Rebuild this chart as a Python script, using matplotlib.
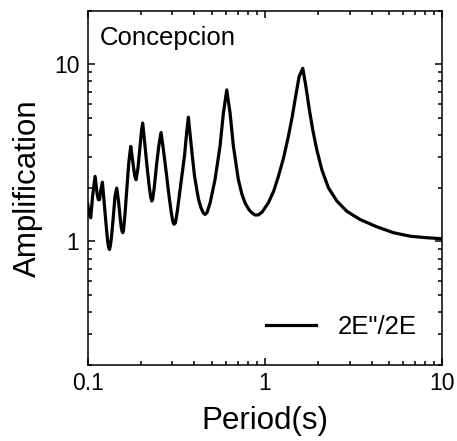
import matplotlib
matplotlib.use('Agg')
import matplotlib.pyplot as plt
from matplotlib.ticker import LogLocator, NullFormatter, FuncFormatter

plt.rcParams['font.family'] = ['Liberation Sans', 'DejaVu Sans']

# Период (с) и коэффициент усиления
period = [0.100, 0.102, 0.104, 0.1065, 0.110, 0.113, 0.1148, 0.1165, 0.1185,
          0.121, 0.1235, 0.1264, 0.1295, 0.131, 0.1325, 0.134, 0.136, 0.1395,
          0.1425, 0.1457, 0.149, 0.152, 0.1545, 0.1562, 0.1576, 0.159, 0.162,
          0.166, 0.1705, 0.1748, 0.178, 0.181, 0.184, 0.1873, 0.192, 0.197,
          0.201, 0.204, 0.209, 0.215, 0.222, 0.2265, 0.2296, 0.2325, 0.237,
          0.245, 0.252, 0.259, 0.266, 0.273, 0.2875, 0.296, 0.3015, 0.3065,
          0.312, 0.320, 0.3317, 0.351, 0.362, 0.3694, 0.377, 0.389, 0.400,
          0.412, 0.422, 0.435, 0.448, 0.459, 0.470, 0.490, 0.522, 0.557,
          0.582, 0.608, 0.635, 0.663, 0.707, 0.740, 0.771, 0.815, 0.850,
          0.878, 0.915, 0.96, 1.044, 1.12, 1.189, 1.27, 1.353, 1.42, 1.476,
          1.555, 1.632, 1.70, 1.778, 1.857, 1.957, 2.09, 2.275, 2.54, 2.89,
          3.43, 4.26, 5.29, 6.57, 8.0, 10.0]
amplification = [1.62, 1.42, 1.36, 1.8, 2.33, 1.85, 1.72, 1.72, 1.95,
                 2.16, 1.7, 1.30, 1.0, 0.93, 0.90, 0.94, 1.05, 1.39,
                 1.8, 2.0, 1.7, 1.39, 1.2, 1.14, 1.12, 1.15, 1.4,
                 1.96, 2.8, 3.44, 3.0, 2.65, 2.35, 2.23, 2.6, 3.4,
                 4.2, 4.66, 3.7, 2.77, 2.05, 1.78, 1.69, 1.74, 2.0,
                 2.77, 3.5, 4.12, 3.4, 2.77, 1.80, 1.45, 1.30, 1.25,
                 1.27, 1.48, 1.96, 3.02, 4.2, 5.03, 4.1, 3.02, 2.35,
                 1.96, 1.72, 1.55, 1.45, 1.42, 1.45, 1.65, 2.23, 3.44,
                 5.3, 7.17, 5.3, 3.44, 2.23, 1.85, 1.65, 1.50, 1.44,
                 1.41, 1.41, 1.46, 1.65, 1.93, 2.33, 2.95, 3.91, 5.0, 6.3,
                 8.5, 9.49, 7.48, 5.53, 4.27, 3.30, 2.54, 2.01, 1.69, 1.48,
                 1.33, 1.21, 1.12, 1.07, 1.05, 1.035]

fig = plt.figure(figsize=(4.57, 4.41), dpi=100)
ax = fig.add_axes([0.192, 0.172, 0.776, 0.803])

ax.plot(period, amplification, 'k-', linewidth=2.3, label='2E"/2E')

ax.set_xscale('log')
ax.set_yscale('log')
ax.set_xlim(0.1, 10)
ax.set_ylim(0.2, 20)

fmt = FuncFormatter(lambda v, pos: f'{v:g}')
for axis in (ax.xaxis, ax.yaxis):
    axis.set_major_locator(LogLocator(base=10))
    axis.set_minor_locator(LogLocator(base=10, subs=range(2, 10)))
    axis.set_major_formatter(fmt)
    axis.set_minor_formatter(NullFormatter())

ax.tick_params(which='both', direction='in', top=True, right=True, width=1.1)
ax.tick_params(which='major', length=5, labelsize=16.5)
ax.tick_params(which='minor', length=3)
ax.tick_params(axis='x', which='major', pad=5)
ax.tick_params(axis='y', which='major', pad=6)
for sp in ax.spines.values():
    sp.set_linewidth(1.1)

ax.set_xlabel('Period(s)', fontsize=22.5, labelpad=8)
ax.set_ylabel('Amplification', fontsize=22.5, labelpad=8)

ax.text(0.035, 0.958, 'Concepcion', transform=ax.transAxes,
        fontsize=18.5, va='top', ha='left')

ax.legend(loc='lower right', frameon=False, fontsize=18.5,
          handlelength=1.95, handletextpad=0.85, borderaxespad=0.6)

fig.savefig('out.png', dpi=100, facecolor='white')
